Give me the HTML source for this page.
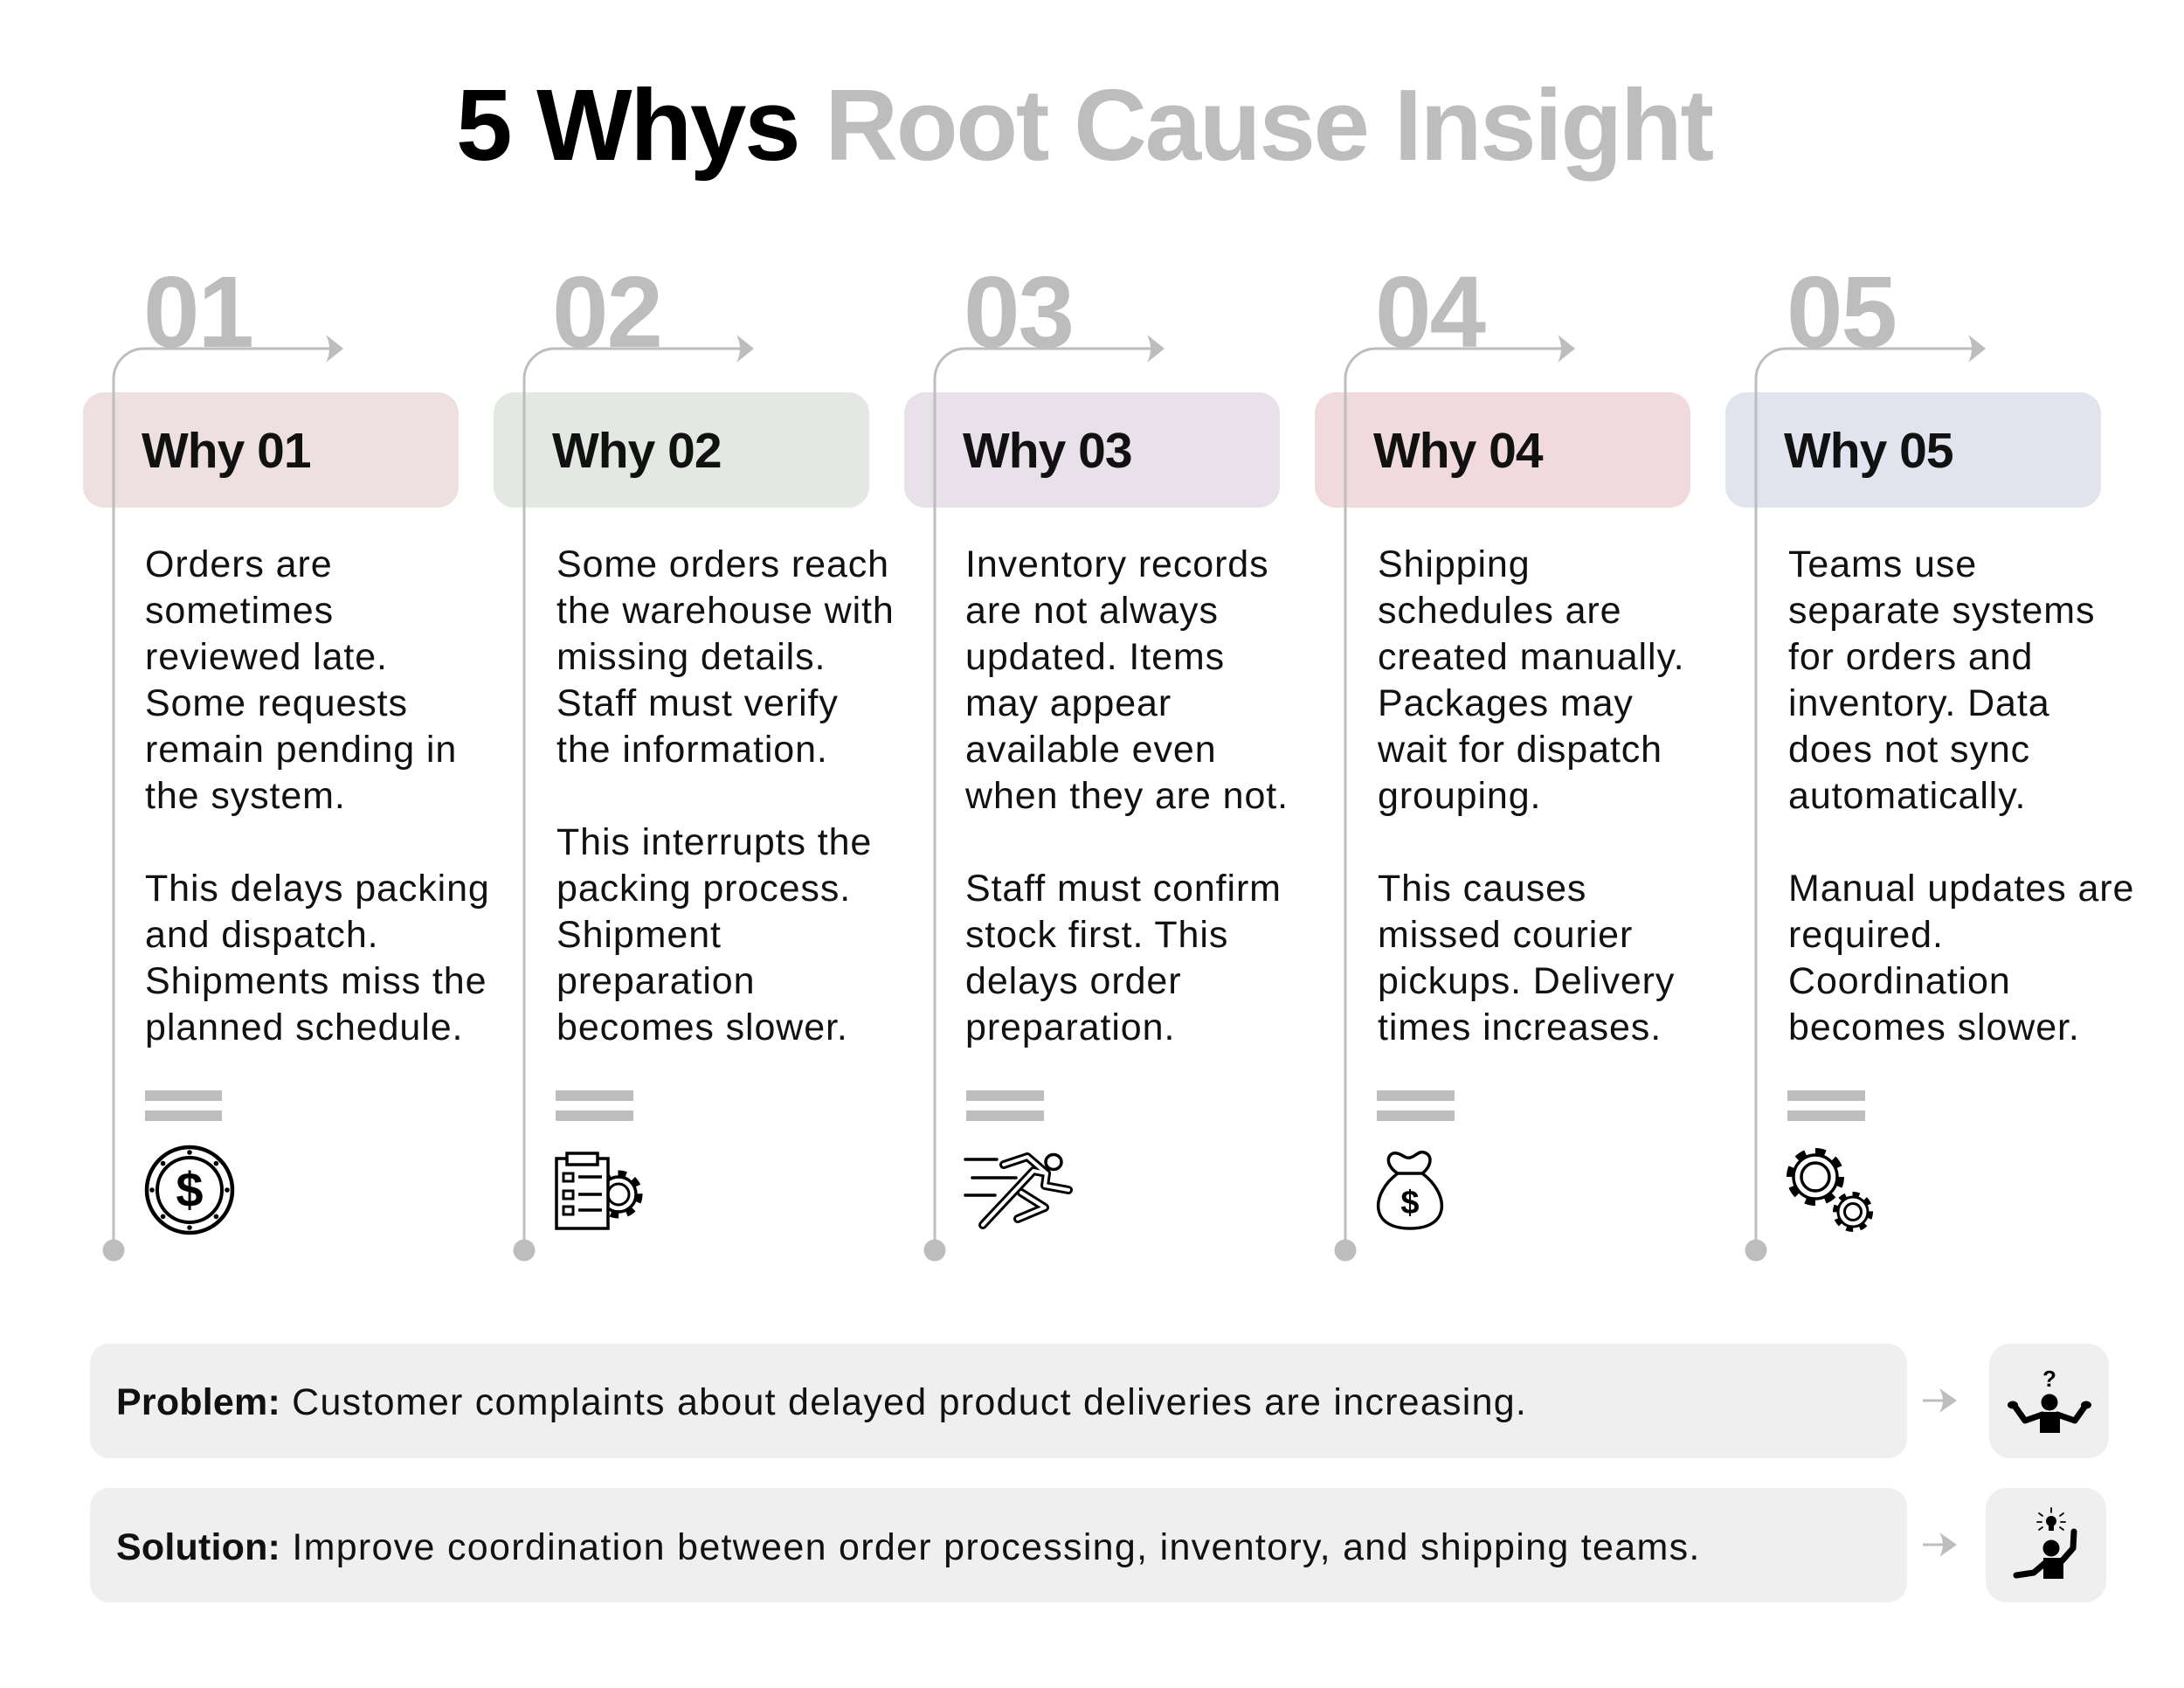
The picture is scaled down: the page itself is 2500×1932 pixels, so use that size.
<!DOCTYPE html>
<html>
<head>
<meta charset="utf-8">
<style>
  html, body { margin:0; padding:0; background:#ffffff; }
  svg { display:block; }
  .t { font-family:"Liberation Sans", Arial, sans-serif; }
</style>
</head>
<body>
<svg width="2500" height="1932" viewBox="0 0 2500 1932" xmlns="http://www.w3.org/2000/svg">
  <rect x="0" y="0" width="2500" height="1932" fill="#ffffff"/>

  <!-- Title -->
  <text class="t" x="522" y="183" font-size="116" font-weight="700" fill="#000" style="letter-spacing:-2.3px">5 Whys<tspan fill="#bdbdbd"> Root Cause Insight</tspan></text>

  <!-- Big numbers -->
  <g class="t" font-size="116" font-weight="700" fill="#bdbdbd" style="letter-spacing:-2px">
    <text x="164" y="397">01</text>
    <text x="632" y="397">02</text>
    <text x="1103" y="397">03</text>
    <text x="1574" y="397">04</text>
    <text x="2045" y="397">05</text>
  </g>

  <!-- Pills -->
  <rect x="95" y="449" width="430" height="132" rx="24" fill="#eee0e0"/>
  <rect x="565" y="449" width="430" height="132" rx="24" fill="#e3e8e3"/>
  <rect x="1035" y="449" width="430" height="132" rx="24" fill="#e8e1e9"/>
  <rect x="1505" y="449" width="430" height="132" rx="24" fill="#f0dadd"/>
  <rect x="1975" y="449" width="430" height="132" rx="24" fill="#e1e4ee"/>

  <!-- Connectors -->
  <g fill="none" stroke="#bdbdbd" stroke-width="3">
    <path d="M130 1431 L130 434 A35 35 0 0 1 165 399 L386 399"/>
    <path d="M600 1431 L600 434 A35 35 0 0 1 635 399 L856 399"/>
    <path d="M1070 1431 L1070 434 A35 35 0 0 1 1105 399 L1326 399"/>
    <path d="M1540 1431 L1540 434 A35 35 0 0 1 1575 399 L1796 399"/>
    <path d="M2010 1431 L2010 434 A35 35 0 0 1 2045 399 L2266 399"/>
  </g>
  <g fill="#bdbdbd">
    <path d="M393 399 L373 383 Q381 399 373 415 Z"/>
    <path d="M863 399 L843 383 Q851 399 843 415 Z"/>
    <path d="M1333 399 L1313 383 Q1321 399 1313 415 Z"/>
    <path d="M1803 399 L1783 383 Q1791 399 1783 415 Z"/>
    <path d="M2273 399 L2253 383 Q2261 399 2253 415 Z"/>
    <circle cx="130" cy="1431" r="12.5"/>
    <circle cx="600" cy="1431" r="12.5"/>
    <circle cx="1070" cy="1431" r="12.5"/>
    <circle cx="1540" cy="1431" r="12.5"/>
    <circle cx="2010" cy="1431" r="12.5"/>
  </g>

  <!-- Why labels -->
  <g class="t" font-size="57" font-weight="700" fill="#111" style="letter-spacing:-1px">
    <text x="162" y="535">Why 01</text>
    <text x="632" y="535">Why 02</text>
    <text x="1102" y="535">Why 03</text>
    <text x="1572" y="535">Why 04</text>
    <text x="2042" y="535">Why 05</text>
  </g>

  <!-- Body text -->
  <g class="t" font-size="43" fill="#111" style="letter-spacing:0.9px">
    <!-- col1 -->
    <text x="166" y="660">Orders are</text>
    <text x="166" y="713">sometimes</text>
    <text x="166" y="766">reviewed late.</text>
    <text x="166" y="819">Some requests</text>
    <text x="166" y="872">remain pending in</text>
    <text x="166" y="925">the system.</text>
    <text x="166" y="1031">This delays packing</text>
    <text x="166" y="1084">and dispatch.</text>
    <text x="166" y="1137">Shipments miss the</text>
    <text x="166" y="1190">planned schedule.</text>
    <!-- col2 -->
    <text x="637" y="660">Some orders reach</text>
    <text x="637" y="713">the warehouse with</text>
    <text x="637" y="766">missing details.</text>
    <text x="637" y="819">Staff must verify</text>
    <text x="637" y="872">the information.</text>
    <text x="637" y="978">This interrupts the</text>
    <text x="637" y="1031">packing process.</text>
    <text x="637" y="1084">Shipment</text>
    <text x="637" y="1137">preparation</text>
    <text x="637" y="1190">becomes slower.</text>
    <!-- col3 -->
    <text x="1105" y="660">Inventory records</text>
    <text x="1105" y="713">are not always</text>
    <text x="1105" y="766">updated. Items</text>
    <text x="1105" y="819">may appear</text>
    <text x="1105" y="872">available even</text>
    <text x="1105" y="925">when they are not.</text>
    <text x="1105" y="1031">Staff must confirm</text>
    <text x="1105" y="1084">stock first. This</text>
    <text x="1105" y="1137">delays order</text>
    <text x="1105" y="1190">preparation.</text>
    <!-- col4 -->
    <text x="1577" y="660">Shipping</text>
    <text x="1577" y="713">schedules are</text>
    <text x="1577" y="766">created manually.</text>
    <text x="1577" y="819">Packages may</text>
    <text x="1577" y="872">wait for dispatch</text>
    <text x="1577" y="925">grouping.</text>
    <text x="1577" y="1031">This causes</text>
    <text x="1577" y="1084">missed courier</text>
    <text x="1577" y="1137">pickups. Delivery</text>
    <text x="1577" y="1190">times increases.</text>
    <!-- col5 -->
    <text x="2047" y="660">Teams use</text>
    <text x="2047" y="713">separate systems</text>
    <text x="2047" y="766">for orders and</text>
    <text x="2047" y="819">inventory. Data</text>
    <text x="2047" y="872">does not sync</text>
    <text x="2047" y="925">automatically.</text>
    <text x="2047" y="1031">Manual updates are</text>
    <text x="2047" y="1084">required.</text>
    <text x="2047" y="1137">Coordination</text>
    <text x="2047" y="1190">becomes slower.</text>
  </g>

  <!-- Double bars -->
  <g fill="#bdbdbd">
    <rect x="166" y="1248" width="88" height="12"/><rect x="166" y="1271" width="88" height="12"/>
    <rect x="636" y="1248" width="89" height="12"/><rect x="636" y="1271" width="89" height="12"/>
    <rect x="1106" y="1248" width="89" height="12"/><rect x="1106" y="1271" width="89" height="12"/>
    <rect x="1576" y="1248" width="89" height="12"/><rect x="1576" y="1271" width="89" height="12"/>
    <rect x="2046" y="1248" width="89" height="12"/><rect x="2046" y="1271" width="89" height="12"/>
  </g>

  <!-- Icon 1: coin -->
  <g>
    <circle cx="217" cy="1362" r="49" fill="none" stroke="#000" stroke-width="4.5"/>
    <circle cx="217" cy="1362" r="37" fill="none" stroke="#000" stroke-width="4"/>
    <g fill="#000">
      <circle cx="260" cy="1362" r="2.8"/><circle cx="174" cy="1362" r="2.8"/>
      <circle cx="217" cy="1319" r="2.8"/><circle cx="217" cy="1405" r="2.8"/>
      <circle cx="247.4" cy="1331.6" r="2.8"/><circle cx="186.6" cy="1331.6" r="2.8"/>
      <circle cx="247.4" cy="1392.4" r="2.8"/><circle cx="186.6" cy="1392.4" r="2.8"/>
    </g>
    <text class="t" x="217" y="1381" font-size="56" font-weight="700" text-anchor="middle" fill="#000">$</text>
  </g>

  <!-- Icon 2: clipboard + gear -->
  <g>
    <circle cx="708" cy="1367" r="24" fill="none" stroke="#000" stroke-width="7" pathLength="16" stroke-dasharray="1 1"/>
    <circle cx="708" cy="1367" r="20" fill="#fff" stroke="#000" stroke-width="3.5"/>
    <circle cx="708" cy="1367" r="12" fill="none" stroke="#000" stroke-width="3"/>
    <rect x="637" y="1326" width="59" height="80" fill="#fff" stroke="#000" stroke-width="3.5"/>
    <rect x="649" y="1320" width="35" height="13" fill="#fff" stroke="#000" stroke-width="3.5"/>
    <g fill="none" stroke="#000" stroke-width="3">
      <rect x="645" y="1343" width="11" height="9"/>
      <rect x="645" y="1363" width="11" height="9"/>
      <rect x="645" y="1381" width="11" height="9"/>
    </g>
    <g stroke="#000" stroke-width="3.5">
      <path d="M662 1347 H689 M662 1367 H689 M662 1385 H689"/>
    </g>
  </g>

  <!-- Icon 3: runner -->
  <g fill="none" stroke-linecap="round" stroke-linejoin="round">
    <g stroke="#000" stroke-width="3.5">
      <path d="M1105 1327 H1141 M1113 1348 H1163 M1105 1368 H1139"/>
    </g>
    <g stroke="#000" stroke-width="10">
      <path d="M1125 1402 L1183 1340 L1198 1343"/>
      <path d="M1149 1333 L1176 1324 L1198 1343 L1196 1357 L1223 1362"/>
      <path d="M1169 1365 L1196 1382 L1165 1395"/>
    </g>
    <g stroke="#fff" stroke-width="4">
      <path d="M1125 1402 L1183 1340 L1198 1343"/>
      <path d="M1149 1333 L1176 1324 L1198 1343 L1196 1357 L1223 1362"/>
      <path d="M1169 1365 L1196 1382 L1165 1395"/>
    </g>
    <ellipse cx="1206" cy="1330" rx="9" ry="8.5" stroke="#000" stroke-width="3.5" fill="#fff"/>
  </g>

  <!-- Icon 4: money bag -->
  <g fill="none" stroke="#000" stroke-width="3.5" stroke-linejoin="round">
    <path d="M1600 1343 C1570 1365 1566 1406 1614 1406 C1662 1406 1658 1365 1628 1343 Z"/>
    <path d="M1600 1343 C1584 1333 1588 1318 1599 1320 C1605 1321 1608 1326 1614 1325 C1620 1324 1624 1317 1630 1319 C1641 1322 1638 1336 1628 1343"/>
    <text class="t" x="1614" y="1389" font-size="38" font-weight="700" text-anchor="middle" fill="#000" stroke="none">$</text>
  </g>

  <!-- Icon 5: gears -->
  <g>
    <circle cx="2078" cy="1347" r="29" fill="none" stroke="#000" stroke-width="8" pathLength="16" stroke-dasharray="1 1"/>
    <circle cx="2078" cy="1347" r="25" fill="#fff" stroke="#000" stroke-width="3.5"/>
    <ellipse cx="2078" cy="1347" rx="16" ry="16" fill="none" stroke="#000" stroke-width="3.5"/>
    <circle cx="2121" cy="1387" r="20" fill="none" stroke="#000" stroke-width="6" pathLength="16" stroke-dasharray="1 1"/>
    <circle cx="2121" cy="1387" r="17" fill="#fff" stroke="#000" stroke-width="3"/>
    <circle cx="2121" cy="1387" r="9.5" fill="none" stroke="#000" stroke-width="3"/>
  </g>

  <!-- Bottom boxes -->
  <rect x="103" y="1538" width="2080" height="131" rx="22" fill="#efefef"/>
  <rect x="103" y="1703" width="2080" height="131" rx="22" fill="#efefef"/>
  <rect x="2277" y="1538" width="137" height="131" rx="24" fill="#efefef"/>
  <rect x="2273" y="1703" width="138" height="131" rx="24" fill="#efefef"/>

  <text class="t" x="133" y="1619" font-size="43" fill="#111"><tspan font-weight="700" style="letter-spacing:0.2px">Problem:</tspan><tspan style="letter-spacing:1.25px"> Customer complaints about delayed product deliveries are increasing.</tspan></text>
  <text class="t" x="133" y="1785" font-size="43" fill="#111"><tspan font-weight="700" style="letter-spacing:0.2px">Solution:</tspan><tspan style="letter-spacing:1.3px"> Improve coordination between order processing, inventory, and shipping teams.</tspan></text>

  <!-- Bottom arrows -->
  <g stroke="#bdbdbd" stroke-width="3"><path d="M2201 1603 H2230"/><path d="M2201 1768 H2230"/></g>
  <g fill="#bdbdbd">
    <path d="M2240 1603 L2220 1589 Q2228 1603 2220 1617 Z"/>
    <path d="M2240 1768 L2220 1754 Q2228 1768 2220 1782 Z"/>
  </g>

  <!-- Problem icon: shrug -->
  <g>
    <text class="t" x="2346" y="1587" font-size="26" font-weight="700" text-anchor="middle" fill="#000">?</text>
    <circle cx="2346" cy="1605" r="9.5" fill="#000"/>
    <rect x="2335" y="1616" width="23" height="24" fill="#000"/>
    <g fill="none" stroke="#000" stroke-width="7" stroke-linecap="round" stroke-linejoin="round">
      <path d="M2338 1619 L2318 1626 L2306 1609"/>
      <path d="M2355 1619 L2375 1626 L2387 1609"/>
    </g>
    <ellipse cx="2304" cy="1608" rx="6" ry="4.5" fill="#000"/>
    <ellipse cx="2388" cy="1608" rx="6" ry="4.5" fill="#000"/>
  </g>

  <!-- Solution icon: idea -->
  <g>
    <circle cx="2348" cy="1741" r="6" fill="#000"/>
    <rect x="2345" y="1746" width="6" height="6" fill="#000"/>
    <g stroke="#000" stroke-width="1.8" stroke-linecap="round">
      <path d="M2348 1731 V1726 M2338 1735 L2334 1732 M2358 1735 L2362 1732 M2337 1742 H2332 M2359 1742 H2364 M2338 1748 L2334 1751 M2358 1748 L2362 1751"/>
    </g>
    <circle cx="2348" cy="1772" r="9.5" fill="#000"/>
    <rect x="2339" y="1783" width="23" height="24" fill="#000"/>
    <g fill="none" stroke="#000" stroke-width="7" stroke-linecap="round" stroke-linejoin="round">
      <path d="M2342 1788 L2328 1800 L2308 1803"/>
      <path d="M2359 1788 L2373 1772 L2374 1753"/>
    </g>
  </g>
</svg>
</body>
</html>
